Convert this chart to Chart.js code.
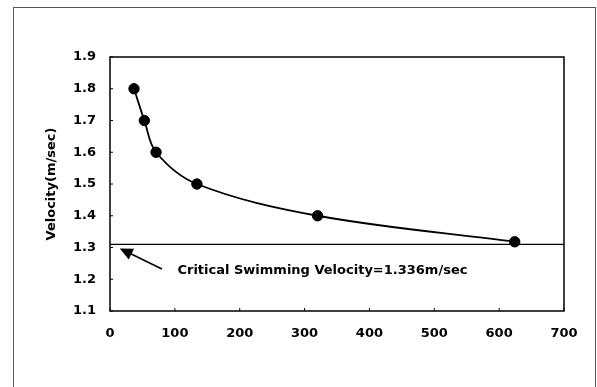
<!DOCTYPE html>
<html><head><meta charset="utf-8">
<script src="https://cdn.jsdelivr.net/npm/chart.js@4/dist/chart.umd.min.js"></script>
<style>html,body{margin:0;padding:0;background:#fff}#wrap{width:597px;height:387px}</style>
</head><body><div id="wrap"><canvas id="c" width="597" height="387"></canvas></div>
<script>
// Data
const timeValues = [37, 53, 71, 134, 320, 624];
const velocityValues = [1.8, 1.7, 1.6, 1.5, 1.4, 1.318];
const criticalVelocity = [1.31, 1.31];
const criticalX = [0, 700];
const xTicks = [0, 100, 200, 300, 400, 500, 600, 700];
const yTicks = [1.1, 1.2, 1.3, 1.4, 1.5, 1.6, 1.7, 1.8, 1.9];
const annotationText = "Critical Swimming Velocity=1.336m/sec";
const yTitle = "Velocity(m/sec)";

const FONT = "'DejaVu Sans', sans-serif";

const framePlugin = {
  id: 'frame',
  beforeDraw(chart) {
    const ctx = chart.ctx;
    ctx.save();
    ctx.fillStyle = '#fff';
    ctx.fillRect(0, 0, chart.width, chart.height);
    ctx.strokeStyle = '#555';
    ctx.lineWidth = 1;
    ctx.strokeRect(13.5, 7.5, 582, 400);
    ctx.restore();
  },
  afterDatasetsDraw(chart) {
    const ctx = chart.ctx, a = chart.chartArea;
    const xs = chart.scales.x, ys = chart.scales.y;
    ctx.save();
    ctx.strokeStyle = '#000';
    ctx.lineWidth = 1.5;
    ctx.strokeRect(a.left, a.top, a.right - a.left, a.bottom - a.top);
    // inward tick marks
    ctx.lineWidth = 1;
    xTicks.forEach(v => { const px = xs.getPixelForValue(v); ctx.beginPath(); ctx.moveTo(px, a.bottom); ctx.lineTo(px, a.bottom - 3); ctx.stroke(); });
    yTicks.forEach(v => { const py = ys.getPixelForValue(v); ctx.beginPath(); ctx.moveTo(a.left, py); ctx.lineTo(a.left + 3, py); ctx.stroke(); });
    // arrow
    const tipX = xs.getPixelForValue(15), tipY = ys.getPixelForValue(1.297);
    const tailX = xs.getPixelForValue(80), tailY = ys.getPixelForValue(1.232);
    const ang = Math.atan2(tipY - tailY, tipX - tailX);
    ctx.lineWidth = 1.6;
    ctx.beginPath(); ctx.moveTo(tailX, tailY); ctx.lineTo(tipX - 6 * Math.cos(ang), tipY - 6 * Math.sin(ang)); ctx.stroke();
    const L = 13, W = 6;
    ctx.beginPath();
    ctx.moveTo(tipX, tipY);
    ctx.lineTo(tipX - L * Math.cos(ang) + W * Math.sin(ang), tipY - L * Math.sin(ang) - W * Math.cos(ang));
    ctx.lineTo(tipX - L * Math.cos(ang) - W * Math.sin(ang), tipY - L * Math.sin(ang) + W * Math.cos(ang));
    ctx.closePath();
    ctx.fillStyle = '#000';
    ctx.fill();
    // text
    ctx.font = "bold 13px " + FONT;
    ctx.textBaseline = 'middle';
    ctx.textAlign = 'left';
    ctx.fillText(annotationText, xs.getPixelForValue(104), ys.getPixelForValue(1.228));
    ctx.restore();
  }
};

new Chart(document.getElementById('c'), {
  type: 'scatter',
  data: {
    datasets: [
      {
        data: timeValues.map((x, i) => ({x, y: velocityValues[i]})),
        showLine: true,
        borderColor: '#000',
        backgroundColor: '#000',
        borderWidth: 1.8,
        pointRadius: 5.2,
        pointBorderWidth: 1,
        pointBackgroundColor: '#000',
        pointBorderColor: '#000',
        tension: 0.35
      },
      {
        data: criticalX.map((x, i) => ({x, y: criticalVelocity[i]})),
        showLine: true,
        borderColor: '#000',
        borderWidth: 1.3,
        pointRadius: 0
      }
    ]
  },
  options: {
    responsive: false,
    animation: false,
    events: [],
    layout: { padding: { left: 36, right: 33, top: 57, bottom: 0 } },
    plugins: { legend: { display: false }, tooltip: { enabled: false } },
    scales: {
      x: {
        type: 'linear', min: 0, max: 700,
        grid: { display: false, drawTicks: false },
        border: { display: false },
        afterBuildTicks(s) { s.ticks = xTicks.map(v => ({ value: v })); },
        ticks: { color: '#000', padding: 15, font: { family: FONT, size: 13, weight: 'bold' }, maxRotation: 0, callback: v => String(v) },
        afterFit(s) { s.height = 76; }
      },
      y: {
        type: 'linear', min: 1.1, max: 1.9,
        grid: { display: false, drawTicks: false },
        border: { display: false },
        afterBuildTicks(s) { s.ticks = yTicks.map(v => ({ value: v })); },
        ticks: { color: '#000', padding: 14, font: { family: FONT, size: 13, weight: 'bold' }, callback: v => Number(v).toFixed(1) },
        title: { display: true, text: yTitle, color: '#000', font: { family: FONT, size: 13, weight: 'bold' }, padding: { top: 8, bottom: 0 } },
        afterFit(s) { s.width = 74; }
      }
    }
  },
  plugins: [framePlugin]
});
</script>
</body></html>
